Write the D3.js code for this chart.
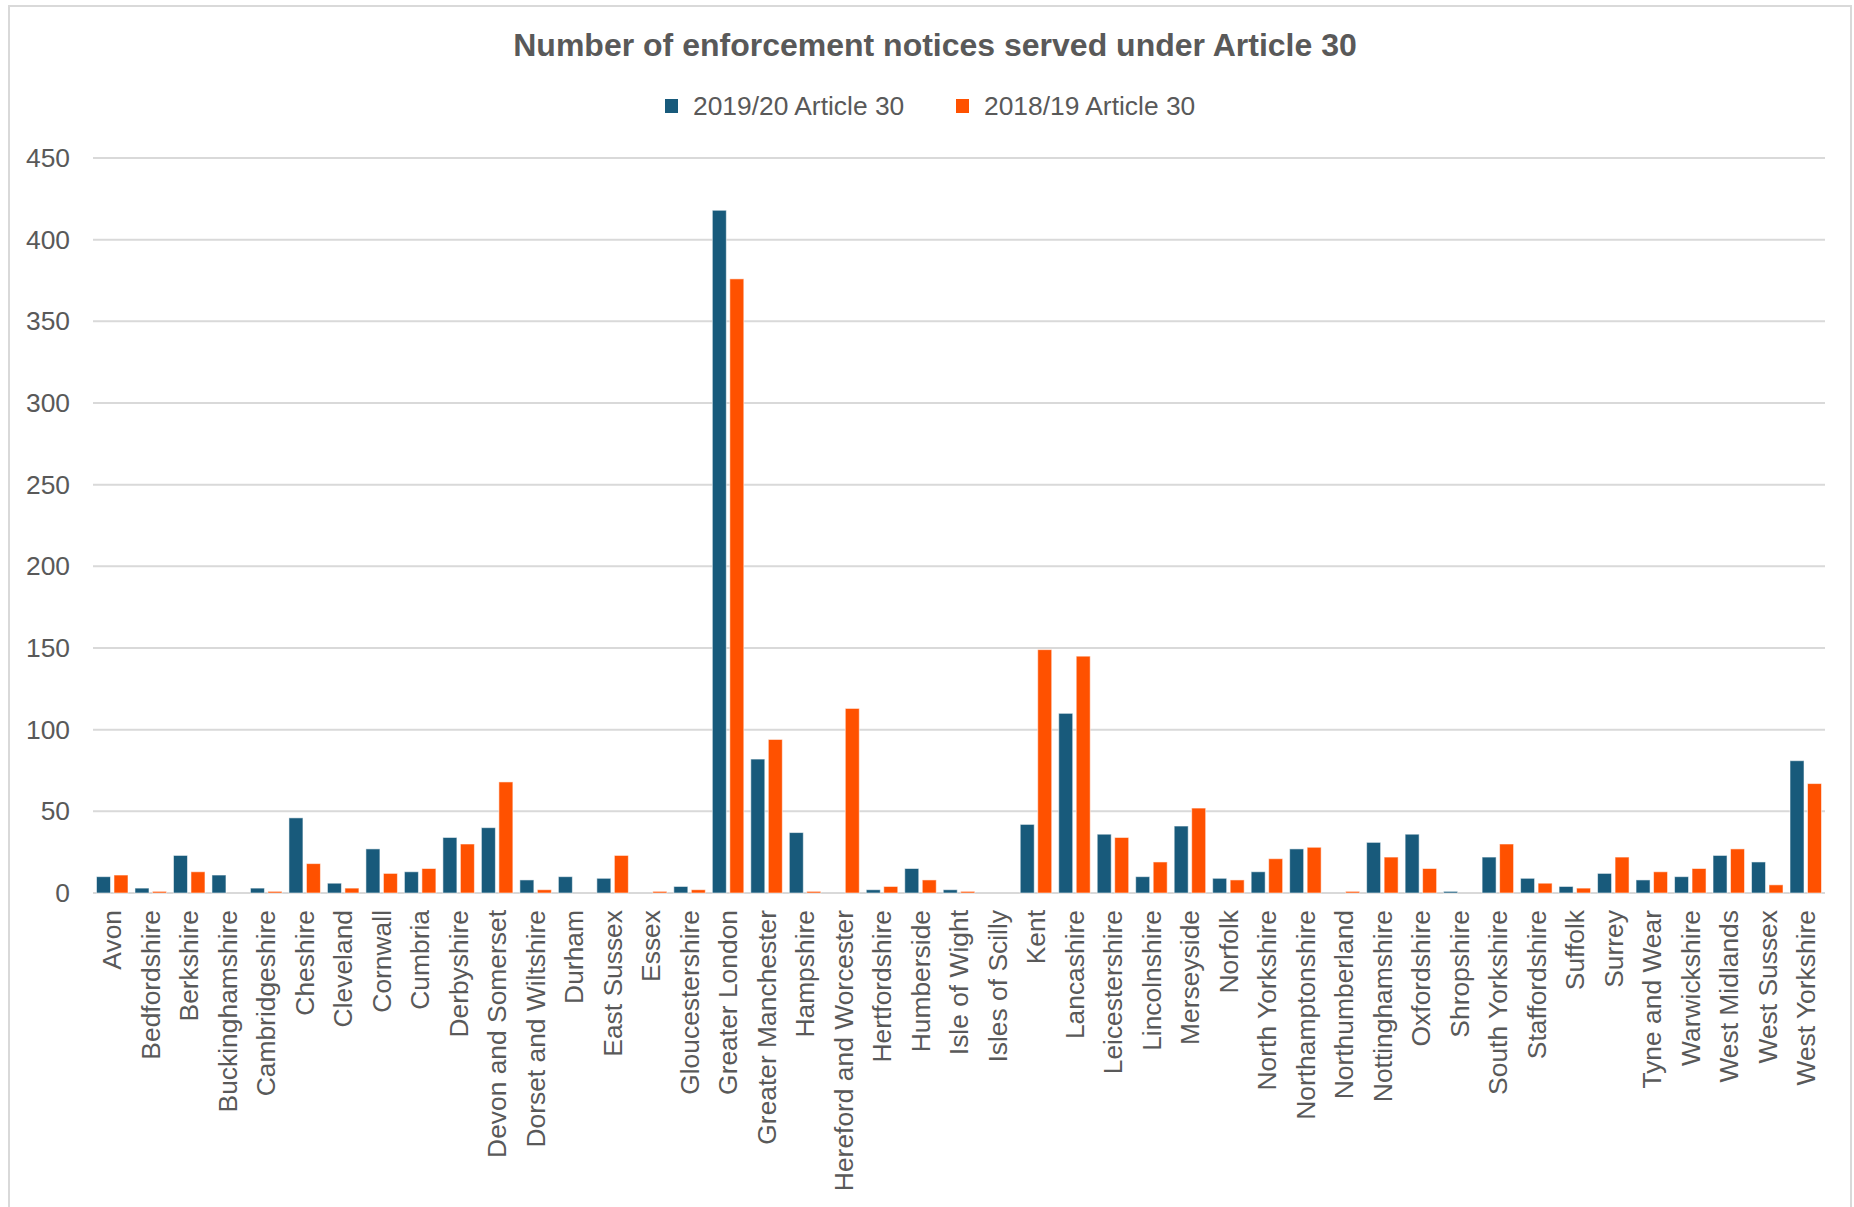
<!DOCTYPE html>
<html>
<head>
<meta charset="utf-8">
<script src="https://cdn.jsdelivr.net/npm/d3@7"></script>
<style>
  html, body { margin: 0; padding: 0; background: #fff; }
  svg { display: block; font-family: "Liberation Sans", Arial, sans-serif; }
</style>
</head>
<body>
<svg id="chart" width="1854" height="1207"></svg>
<script>
const categories = ["Avon","Bedfordshire","Berkshire","Buckinghamshire","Cambridgeshire","Cheshire","Cleveland","Cornwall","Cumbria","Derbyshire","Devon and Somerset","Dorset and Wiltshire","Durham","East Sussex","Essex","Gloucestershire","Greater London","Greater Manchester","Hampshire","Hereford and Worcester","Hertfordshire","Humberside","Isle of Wight","Isles of Scilly","Kent","Lancashire","Leicestershire","Lincolnshire","Merseyside","Norfolk","North Yorkshire","Northamptonshire","Northumberland","Nottinghamshire","Oxfordshire","Shropshire","South Yorkshire","Staffordshire","Suffolk","Surrey","Tyne and Wear","Warwickshire","West Midlands","West Sussex","West Yorkshire"];
const seriesNames = ["2019/20 Article 30", "2018/19 Article 30"];
const values2019 = [10,3,23,11,3,46,6,27,13,34,40,8,10,9,0,4,418,82,37,0,2,15,2,0,42,110,36,10,41,9,13,27,0,31,36,1,22,9,4,12,8,10,23,19,81];
const values2018 = [11,1,13,0,1,18,3,12,15,30,68,2,0,23,1,2,376,94,1,113,4,8,1,0,149,145,34,19,52,8,21,28,1,22,15,0,30,6,3,22,13,15,27,5,67];
const yTicks = [0,50,100,150,200,250,300,350,400,450];
const titleText = "Number of enforcement notices served under Article 30";

const colors = ["#185A7B", "#FF5100"];
const textColor = "#595959";
const gridColor = "#D9D9D9";

const svg = d3.select("#chart");

// outer border
svg.append("rect").attr("x", 9).attr("y", 6).attr("width", 1842).attr("height", 1210)
  .attr("fill", "#fff").attr("stroke", gridColor).attr("stroke-width", 2);

const plot = { left: 93, right: 1825, top: 158, bottom: 893 };

const x0 = d3.scaleBand().domain(categories).range([plot.left, plot.right]).padding(0);
const x1 = d3.scaleBand().domain(seriesNames).range([0, x0.bandwidth()]).paddingInner(0.2).paddingOuter(0.2);
const y = d3.scaleLinear().domain([0, 450]).range([plot.bottom, plot.top]);

// gridlines
svg.append("g").selectAll("line").data(yTicks).join("line")
  .attr("x1", plot.left).attr("x2", plot.right)
  .attr("y1", d => y(d)).attr("y2", d => y(d))
  .attr("stroke", gridColor).attr("stroke-width", 2);

// y axis labels
const yAxis = d3.axisLeft(y).tickValues(yTicks).tickSize(0).tickPadding(0);
const gy = svg.append("g").attr("transform", `translate(${plot.left - 23},0)`).call(yAxis);
gy.select(".domain").remove();
gy.selectAll("text").attr("fill", textColor).attr("font-size", "26.4px")
  .attr("font-family", "'Liberation Sans', Arial, sans-serif").attr("dy", "0.32em").attr("dx", 0);

// bars
const data = categories.map((c, i) => ({ cat: c, vals: [values2019[i], values2018[i]] }));
const groups = svg.append("g").selectAll("g").data(data).join("g")
  .attr("transform", d => `translate(${x0(d.cat)},0)`);
groups.selectAll("rect").data(d => d.vals.map((v, k) => ({ key: seriesNames[k], v, k })))
  .join("rect")
  .filter(d => d.v > 0)
  .attr("x", d => x1(d.key))
  .attr("width", x1.bandwidth())
  .attr("y", d => y(d.v))
  .attr("height", d => y(0) - y(d.v))
  .attr("fill", d => colors[d.k])
  .attr("stroke", "#ffffff").attr("stroke-opacity", 0.55).attr("stroke-width", 1);

// x axis
const xAxis = d3.axisBottom(x0).tickSize(0).tickPadding(0);
const gx = svg.append("g").attr("transform", `translate(0,${plot.bottom})`).call(xAxis);
gx.select(".domain").remove();
gx.selectAll("text")
  .attr("fill", textColor).attr("font-size", "26.4px")
  .attr("font-family", "'Liberation Sans', Arial, sans-serif")
  .attr("text-anchor", "end")
  .attr("transform", "rotate(-90)")
  .attr("x", -17).attr("y", 0).attr("dy", "0.35em");

// title
svg.append("text").attr("x", 935).attr("y", 56).attr("text-anchor", "middle")
  .attr("font-size", "32px").attr("font-weight", "bold").attr("fill", textColor)
  .text(titleText);

// legend
const legendX = [665, 956];
const lg = svg.append("g").selectAll("g").data(seriesNames).join("g")
  .attr("transform", (d, i) => `translate(${legendX[i]},0)`);
lg.append("rect").attr("x", 0).attr("y", 99).attr("width", 13).attr("height", 14)
  .attr("fill", (d, i) => colors[i]);
lg.append("text").attr("x", 28).attr("y", 115).attr("font-size", "26.4px").attr("fill", textColor)
  .text(d => d);
</script>
</body>
</html>
